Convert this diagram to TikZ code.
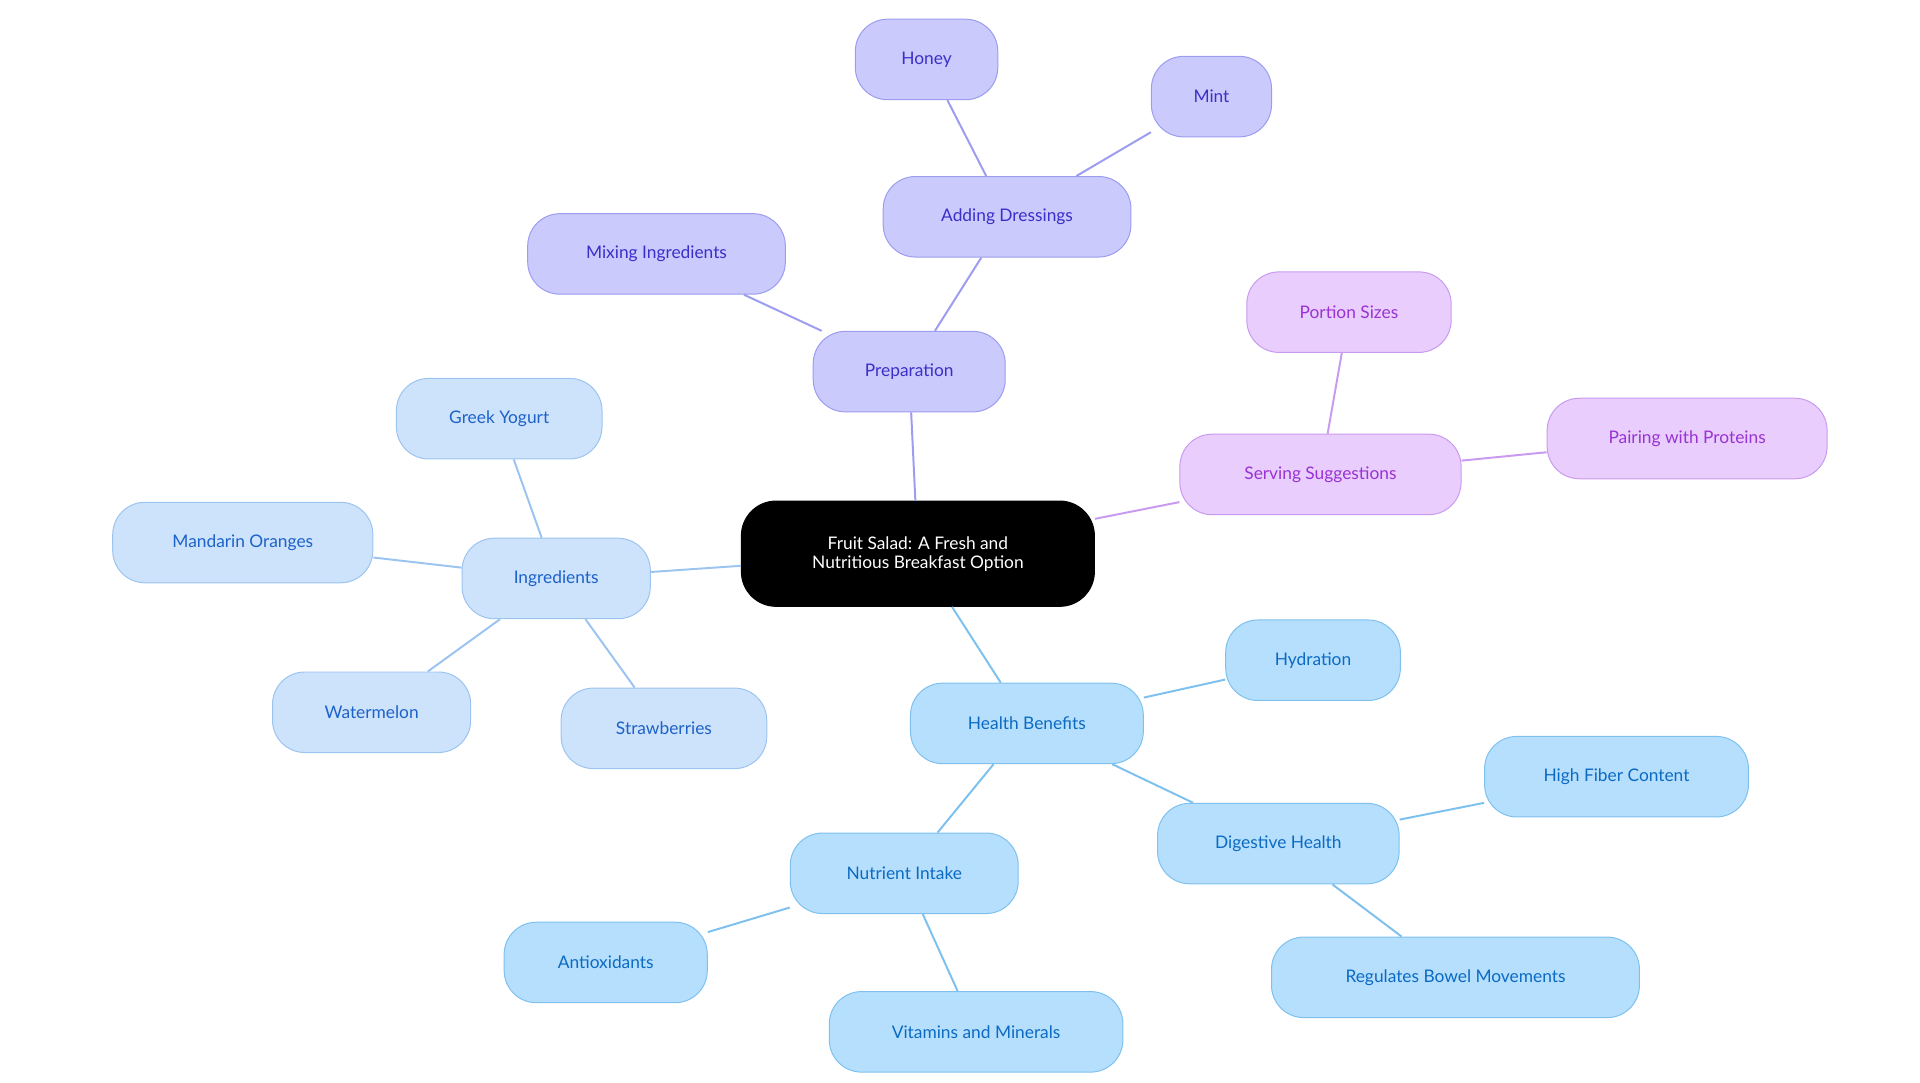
\documentclass[tikz,border=0pt]{standalone}
\usepackage{fontspec}
\setmainfont{Lato}
\begin{document}
\begin{tikzpicture}[x=1pt,y=-1pt,
 base/.style={rounded corners=26pt,minimum height=65pt,font=\fontsize{14}{16}\selectfont,line width=0.8pt,inner sep=0pt,align=center},
 prep/.style={base,fill=prepF,draw=prepD,text=prepT},
 ingr/.style={base,fill=ingF,draw=ingD,text=ingT},
 hlth/.style={base,fill=hF,draw=hD,text=hT},
 serv/.style={base,fill=sF,draw=sD,text=sT},
 lp/.style={prepD,line width=1.6pt},
 li/.style={ingD,line width=1.6pt},
 lh/.style={hD,line width=1.6pt},
 ls/.style={sD,line width=1.6pt}]
\definecolor{prepF}{HTML}{CACAFC}\definecolor{prepD}{HTML}{9C9CF0}\definecolor{prepT}{HTML}{3A2FC8}
\definecolor{ingF}{HTML}{CDE2FB}\definecolor{ingD}{HTML}{9CC4F0}\definecolor{ingT}{HTML}{1C62C9}
\definecolor{hF}{HTML}{B5DFFD}\definecolor{hD}{HTML}{7EC1EE}\definecolor{hT}{HTML}{0B6AC2}
\definecolor{sF}{HTML}{E8CDFD}\definecolor{sD}{HTML}{C99BF0}\definecolor{sT}{HTML}{9933D3}
\useasboundingbox (0,0) rectangle (1550,874);
\node[base,fill=black!90!blue!40!black,fill=black,draw=black,text=white,minimum width=285pt,minimum height=85pt,rounded corners=28pt,font=\fontsize{14}{15.5}\selectfont] (c) at (741,447) {Fruit Salad: A Fresh and\\Nutritious Breakfast Option};
\node[prep,minimum width=155pt] (prep) at (734,300) {Preparation};
\node[prep,minimum width=208pt] (mix) at (530,205) {Mixing Ingredients};
\node[prep,minimum width=200pt] (add) at (813,175) {Adding Dressings};
\node[prep,minimum width=115pt] (honey) at (748,48) {Honey};
\node[prep,minimum width=97pt] (mint) at (978,78) {Mint};
\node[serv,minimum width=227pt] (serv) at (1066,383) {Serving Suggestions};
\node[serv,minimum width=165pt] (por) at (1089,252) {Portion Sizes};
\node[serv,minimum width=226pt] (pair) at (1362,354) {Pairing with Proteins};
\node[ingr,minimum width=152pt] (ing) at (449,467) {Ingredients};
\node[ingr,minimum width=166pt] (gy) at (403,338) {Greek Yogurt};
\node[ingr,minimum width=210pt] (mo) at (196,438) {Mandarin Oranges};
\node[ingr,minimum width=160pt] (wm) at (300,575) {Watermelon};
\node[ingr,minimum width=166pt] (sb) at (536,588) {Strawberries};
\node[hlth,minimum width=188pt] (hb) at (829,584) {Health Benefits};
\node[hlth,minimum width=141pt] (hy) at (1060,533) {Hydration};
\node[hlth,minimum width=195pt] (dh) at (1032,681) {Digestive Health};
\node[hlth,minimum width=213pt] (hf) at (1305,627) {High Fiber Content};
\node[hlth,minimum width=297pt] (rb) at (1175,789) {Regulates Bowel Movements};
\node[hlth,minimum width=184pt] (ni) at (730,705) {Nutrient Intake};
\node[hlth,minimum width=164pt] (ao) at (489,777) {Antioxidants};
\node[hlth,minimum width=237pt] (vm) at (788,833) {Vitamins and Minerals};
\begin{scope}[on background layer/.style={}]
\end{scope}
\draw[lp] (c) -- (prep); \draw[lp] (prep) -- (mix); \draw[lp] (prep) -- (add);
\draw[lp] (add) -- (honey); \draw[lp] (add) -- (mint);
\draw[ls] (c) -- (serv); \draw[ls] (serv) -- (por); \draw[ls] (serv) -- (pair);
\draw[li] (c) -- (ing); \draw[li] (ing) -- (gy); \draw[li] (ing) -- (mo); \draw[li] (ing) -- (wm); \draw[li] (ing) -- (sb);
\draw[lh] (c) -- (hb); \draw[lh] (hb) -- (hy); \draw[lh] (hb) -- (dh); \draw[lh] (hb) -- (ni);
\draw[lh] (dh) -- (hf); \draw[lh] (dh) -- (rb); \draw[lh] (ni) -- (ao); \draw[lh] (ni) -- (vm);
\end{tikzpicture}
\end{document}
